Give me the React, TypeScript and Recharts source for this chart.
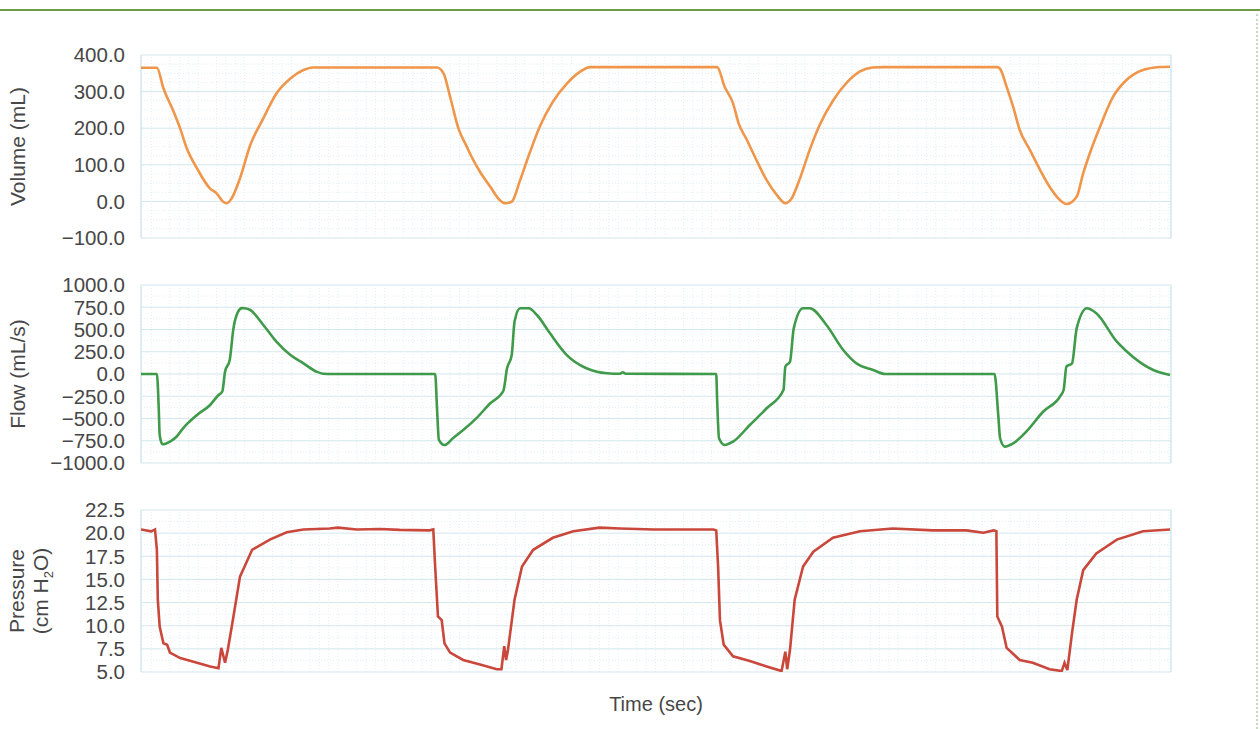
import React from "react";
import { LineChart, Line, XAxis, YAxis, CartesianGrid, ReferenceLine, Label } from "recharts";

// time (s) and values
const VOL_T = [
  0, 0.17, 0.24, 0.35, 0.42, 0.49, 0.6, 0.74, 0.81, 0.88, 0.92, 0.97, 1.06, 1.17, 1.31, 1.45, 1.6, 1.74, 1.84, 1.95,
  3.17, 3.24, 3.31, 3.4, 3.49, 3.54, 3.63, 3.74, 3.84, 3.9, 3.97, 4.06, 4.16, 4.27, 4.41, 4.56, 4.7, 4.81, 4.95,
  6.17, 6.25, 6.34, 6.4, 6.49, 6.59, 6.7, 6.81, 6.9, 6.96, 7.06, 7.16, 7.27, 7.41, 7.56, 7.7, 7.83, 7.95,
  9.17, 9.2, 9.27, 9.34, 9.41, 9.52, 9.63, 9.73, 9.84, 9.91, 10.02, 10.09, 10.16, 10.27, 10.41, 10.55, 10.73, 10.91, 11.02,
];
const VOL_V = [
  365, 365, 309, 245, 199, 145, 90, 35, 22, -1, -5, 8, 63, 154, 227, 295, 336, 359, 366, 366,
  366, 350, 286, 199, 149, 122, 81, 40, 4, -5, -1, 58, 131, 204, 272, 322, 354, 367, 367,
  367, 313, 268, 213, 167, 113, 58, 17, -5, 5, 65, 140, 210, 275, 325, 355, 366, 367,
  367, 362, 313, 258, 195, 140, 85, 40, 4, -7, 13, 77, 131, 204, 286, 331, 359, 367, 368,
];

const FLOW_T = [
  0, 0.17, 0.19, 0.2, 0.23, 0.31, 0.38, 0.45, 0.6, 0.74, 0.83, 0.87, 0.9, 0.95, 0.99, 1.04, 1.08, 1.11, 1.17, 1.31, 1.45, 1.6, 1.74, 1.88, 1.95, 2.05,
  3.15, 3.17, 3.19, 3.25, 3.34, 3.45, 3.59, 3.74, 3.88, 3.92, 3.97, 4.0, 4.06, 4.15, 4.24, 4.38, 4.56, 4.77, 4.99, 5.13, 5.16, 5.19,
  6.16, 6.17, 6.19, 6.25, 6.34, 6.52, 6.7, 6.88, 6.9, 6.95, 6.99, 7.09, 7.16, 7.34, 7.52, 7.66, 7.84, 7.97,
  9.14, 9.18, 9.2, 9.25, 9.34, 9.48, 9.66, 9.84, 9.88, 9.91, 9.97, 10.02, 10.13, 10.23, 10.45, 10.62, 10.84, 11.02,
];
const FLOW_V = [
  0, 0, -385, -685, -790, -760, -705, -610, -460, -348, -236, -199, 25, 157, 513, 700, 740, 738, 719, 551, 363, 213, 120, 26, 3, 0,
  0, -385, -740, -798, -722, -630, -498, -329, -191, 64, 213, 588, 738, 738, 663, 457, 213, 64, 8, 2, 20, 2,
  0, -300, -722, -798, -760, -573, -385, -180, 82, 138, 513, 738, 738, 551, 270, 120, 45, 0,
  0, -460, -722, -816, -779, -648, -424, -255, -180, 82, 120, 513, 738, 682, 363, 194, 45, -11,
];

const PRES_T = [
  0, 0.11, 0.15, 0.17, 0.18, 0.2, 0.24, 0.28, 0.31, 0.42, 0.6, 0.74, 0.83, 0.86, 0.9, 0.93, 0.99, 1.06, 1.19, 1.38, 1.56, 1.74, 2.02, 2.11, 2.31, 2.56, 2.77, 3.09,
  3.13, 3.15, 3.18, 3.22, 3.25, 3.31, 3.45, 3.63, 3.81, 3.86, 3.89, 3.91, 3.93, 4.0, 4.08, 4.2, 4.41, 4.63, 4.91, 5.13, 5.49, 6.13,
  6.16, 6.18, 6.2, 6.24, 6.34, 6.52, 6.7, 6.86, 6.9, 6.92, 6.95, 7.0, 7.09, 7.2, 7.41, 7.7, 8.05, 8.48, 8.84, 9.02, 9.13,
  9.16, 9.17, 9.22, 9.27, 9.41, 9.55, 9.73, 9.86, 9.89, 9.92, 9.97, 10.02, 10.09, 10.23, 10.45, 10.73, 11.02,
];
const PRES_V = [
  20.4, 20.2, 20.4, 18.2, 12.8, 9.9, 8.1, 7.95, 7.1, 6.5, 6.0, 5.6, 5.4, 7.6, 6.0, 7.4, 11.0, 15.3, 18.2, 19.3, 20.1, 20.4, 20.5, 20.6, 20.4, 20.45, 20.35, 20.3,
  20.4, 16.4, 11.0, 10.6, 8.1, 7.1, 6.3, 5.8, 5.3, 5.3, 7.8, 6.3, 7.4, 12.8, 16.4, 18.2, 19.5, 20.2, 20.6, 20.5, 20.4, 20.4,
  20.3, 16.4, 10.6, 7.95, 6.7, 6.2, 5.6, 5.1, 7.2, 5.3, 7.4, 12.8, 16.4, 18.0, 19.5, 20.2, 20.5, 20.3, 20.3, 20.05, 20.3,
  20.2, 11.0, 9.9, 7.6, 6.3, 6.0, 5.3, 5.1, 6.0, 5.2, 9.2, 12.8, 16.0, 17.8, 19.3, 20.2, 20.4,
];

const VOL_TICKS = [-100, 0, 100, 200, 300, 400];
const FLOW_TICKS = [-1000, -750, -500, -250, 0, 250, 500, 750, 1000];
const PRES_TICKS = [5, 7.5, 10, 12.5, 15, 17.5, 20, 22.5];

const T_MAX = 11.03;
const T_MAJOR = Array.from({ length: 22 }, (_, i) => +(0.21 + i * 0.5).toFixed(2));
const T_MINOR = Array.from({ length: 111 }, (_, i) => i)
  .filter((i) => (i - 2) % 5 !== 0)
  .map((i) => +(0.01 + i * 0.1).toFixed(2))
  .filter((t) => t > 0 && t < T_MAX);

const FONT = '"Liberation Sans", Arial, Helvetica, sans-serif';
const TEXT = "#474747";
const GRID = "#d3e7ef";
const GRID_MINOR = "#e3eff4";

const zip = (t: number[], v: number[]) => t.map((x, i) => ({ t: x, v: v[i] }));

const fmt = (v: number) => (v < 0 ? "\u2212" : "") + Math.abs(v).toFixed(1);

function minorTicks(ticks: number[], parts: number) {
  const out: number[] = [];
  for (let i = 0; i < ticks.length - 1; i++) {
    const step = (ticks[i + 1] - ticks[i]) / parts;
    for (let k = 1; k < parts; k++) out.push(ticks[i] + k * step);
  }
  return out;
}

function AxisTitle({ viewBox, lines }: { viewBox?: any; lines: React.ReactNode[] }) {
  if (!viewBox) return null;
  const cy = viewBox.y + viewBox.height / 2;
  const xs = lines.length === 1 ? [25] : [24, 48];
  return (
    <g>
      {lines.map((ln, i) => (
        <text
          key={i}
          x={xs[i]}
          y={cy}
          transform={`rotate(-90 ${xs[i]} ${cy})`}
          textAnchor="middle"
          fontSize={21}
          fontFamily={FONT}
          fill={TEXT}
        >
          {ln}
        </text>
      ))}
    </g>
  );
}

type PanelProps = {
  data: { t: number; v: number }[];
  color: string;
  ticks: number[];
  minorParts: number;
  top: number;
  plotH: number;
  lines: React.ReactNode[];
  curve: "monotone" | "linear";
  timeLabel?: boolean;
};

function Panel({ data, color, ticks, minorParts, top, plotH, lines, curve, timeLabel }: PanelProps) {
  const padTop = 18;
  const padBottom = 14;
  const xH = timeLabel ? 50 : 0;
  const height = plotH + padTop + padBottom + xH;
  const yMinor = minorTicks(ticks, minorParts);
  return (
    <div style={{ position: "absolute", left: 0, top: top - padTop }}>
      <LineChart width={1260} height={height} data={data} margin={{ top: padTop, right: 89, bottom: padBottom, left: 71 }}>
        <CartesianGrid stroke={GRID} strokeWidth={1} />
        {T_MINOR.map((t) => (
          <ReferenceLine key={"x" + t} x={t} stroke={GRID_MINOR} strokeDasharray="1 2" />
        ))}
        {yMinor.map((y) => (
          <ReferenceLine key={"y" + y} y={y} stroke={GRID_MINOR} strokeDasharray="1 2" />
        ))}
        <ReferenceLine x={0} stroke={GRID} />
        <ReferenceLine x={T_MAX} stroke={GRID} />
        <XAxis
          dataKey="t"
          type="number"
          domain={[0, T_MAX]}
          ticks={T_MAJOR}
          tick={false}
          tickLine={false}
          axisLine={false}
          height={xH}
          allowDataOverflow
        >
          {timeLabel && (
            <Label value="Time (sec)" position="insideBottom" offset={11} fontSize={20} fontFamily={FONT} fill={TEXT} />
          )}
        </XAxis>
        <YAxis
          type="number"
          domain={[ticks[0], ticks[ticks.length - 1]]}
          ticks={ticks}
          interval={0}
          width={70}
          tickFormatter={fmt}
          tickLine={false}
          axisLine={false}
          tickMargin={10}
          tick={{ fontSize: 20.5, fontFamily: FONT, fill: TEXT }}
          allowDataOverflow
          label={{ content: (p: any) => <AxisTitle viewBox={p.viewBox} lines={lines} /> }}
        />
        <Line
          type={curve}
          dataKey="v"
          stroke={color}
          strokeWidth={2.6}
          dot={false}
          isAnimationActive={false}
        />
      </LineChart>
    </div>
  );
}

export default function App() {
  return (
    <div style={{ position: "absolute", left: 0, top: 0, width: 1260, height: 729, background: "#fff", overflow: "hidden" }}>
      <div style={{ position: "absolute", left: 0, top: 9, width: 1260, height: 2, background: "#6e9b45" }} />
      <div style={{ position: "absolute", left: 1256, top: 14, width: 0, height: 715, borderLeft: "2px dotted #c4dfbc" }} />
      <Panel
        data={zip(VOL_T, VOL_V)}
        color="#f0964a"
        ticks={VOL_TICKS}
        minorParts={4}
        top={55}
        plotH={183}
        lines={["Volume (mL)"]}
        curve="monotone"
      />
      <Panel
        data={zip(FLOW_T, FLOW_V)}
        color="#3f9a4a"
        ticks={FLOW_TICKS}
        minorParts={2}
        top={285}
        plotH={178}
        lines={["Flow (mL/s)"]}
        curve="monotone"
      />
      <Panel
        data={zip(PRES_T, PRES_V)}
        color="#c9473b"
        ticks={PRES_TICKS}
        minorParts={2}
        top={510}
        plotH={162}
        lines={[
          "Pressure",
          <>
            (cm H<tspan fontSize={13} dy={5}>2</tspan>
            <tspan dy={-5}>O)</tspan>
          </>,
        ]}
        curve="linear"
        timeLabel
      />
    </div>
  );
}
